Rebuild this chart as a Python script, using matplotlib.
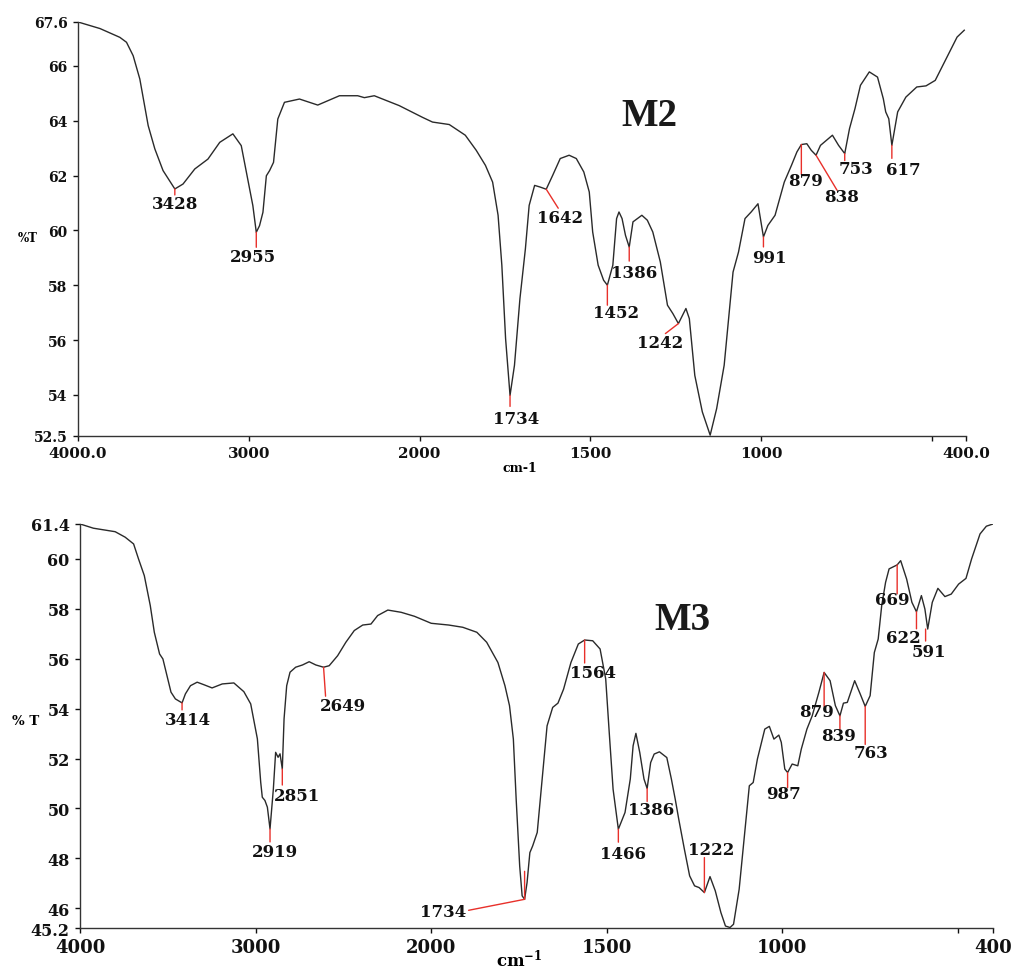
import matplotlib
matplotlib.use("Agg")
import matplotlib.pyplot as plt
import numpy as np

plt.rcParams['font.family'] = ['DejaVu Serif']
plt.rcParams['font.weight'] = 'bold'
plt.rcParams['mathtext.fontset'] = 'dejavuserif'
plt.rcParams['mathtext.default'] = 'bf'

# M2 spectrum: wavenumber (cm-1) and %T
wn_m2 = [4000, 3871, 3755, 3716, 3677, 3638, 3589, 3550, 3502, 3433, 3385, 3316, 3239,
         3170, 3093, 3044, 2976, 2956, 2937, 2917, 2897, 2878, 2855, 2830, 2791, 2703,
         2596, 2469, 2362, 2323, 2265, 2119, 1991, 1962, 1913, 1866, 1834, 1807, 1786,
         1770, 1759, 1748, 1735, 1722, 1706, 1690, 1679, 1663, 1647, 1629, 1610, 1588,
         1562, 1541, 1519, 1503, 1493, 1477, 1461, 1450, 1434, 1423, 1416, 1407, 1397,
         1386, 1375, 1362, 1349, 1333, 1317, 1295, 1274, 1258, 1242, 1220, 1210, 1194,
         1172, 1149, 1130, 1108, 1082, 1066, 1047, 1029, 1009, 993, 980, 959, 932, 911,
         895, 882, 866, 853, 839, 826, 791, 773, 755, 741, 725, 709, 683, 659, 642, 635,
         626, 617, 600, 576, 544, 517, 490, 458, 426, 405]
t_m2 = [67.60, 67.36, 67.04, 66.86, 66.37, 65.52, 63.82, 62.97, 62.18, 61.51, 61.69, 62.24,
        62.60, 63.21, 63.52, 63.09, 60.90, 59.93, 60.17, 60.66, 61.99, 62.18, 62.48, 64.06,
        64.67, 64.79, 64.57, 64.91, 64.91, 64.84, 64.91, 64.55, 64.12, 63.95, 63.86, 63.47,
        62.92, 62.37, 61.76, 60.55, 58.73, 56.05, 53.98, 55.08, 57.51, 59.33, 60.91, 61.64,
        61.58, 61.50, 62.01, 62.62, 62.74, 62.62, 62.13, 61.40, 59.94, 58.73, 58.18, 58.00,
        58.73, 60.43, 60.67, 60.43, 59.82, 59.39, 60.31, 60.43, 60.55, 60.37, 59.94, 58.85,
        57.27, 56.96, 56.60, 57.15, 56.78, 54.71, 53.38, 52.53, 53.50, 55.08, 58.48, 59.21,
        60.43, 60.67, 60.97, 59.76, 60.18, 60.55, 61.76, 62.37, 62.86, 63.13, 63.16, 62.92,
        62.74, 63.10, 63.47, 63.10, 62.80, 63.71, 64.44, 65.29, 65.78, 65.59, 64.80, 64.32,
        64.07, 63.10, 64.32, 64.86, 65.23, 65.27, 65.47, 66.26, 67.05, 67.30]

# M3 spectrum
wn_m3 = [4000, 3924, 3800, 3743, 3695, 3667, 3634, 3600, 3577, 3547, 3528, 3505, 3482,
         3457, 3419, 3400, 3371, 3333, 3295, 3248, 3190, 3124, 3067, 3028, 2990, 2971,
         2962, 2947, 2933, 2918, 2910, 2899, 2886, 2872, 2861, 2848, 2838, 2823, 2804,
         2772, 2733, 2695, 2657, 2613, 2581, 2533, 2486, 2438, 2390, 2343, 2305, 2247,
         2171, 2095, 2000, 1950, 1910, 1870, 1842, 1810, 1790, 1777, 1766, 1758, 1753,
         1748, 1741, 1734, 1727, 1719, 1711, 1698, 1685, 1670, 1654, 1639, 1623, 1602,
         1581, 1563, 1540, 1519, 1503, 1493, 1482, 1467, 1448, 1433, 1425, 1417, 1406,
         1394, 1385, 1375, 1365, 1350, 1329, 1316, 1305, 1295, 1279, 1264, 1250, 1237,
         1222, 1206, 1191, 1175, 1162, 1149, 1139, 1123, 1107, 1094, 1083, 1071, 1050,
         1037, 1024, 1010, 1003, 993, 985, 972, 956, 946, 930, 915, 896, 881, 864, 849,
         836, 826, 815, 794, 778, 764, 750, 738, 727, 717, 706, 696, 673, 663, 646, 631,
         618, 604, 594, 586, 573, 557, 537, 519, 498, 477, 461, 437, 419, 400]
t_m3 = [61.40, 61.23, 61.09, 60.87, 60.60, 60.00, 59.33, 58.13, 57.06, 56.19, 55.99, 55.32,
        54.66, 54.39, 54.23, 54.59, 54.92, 55.06, 54.96, 54.83, 54.99, 55.03, 54.68, 54.19,
        52.79, 51.05, 50.45, 50.32, 50.05, 49.18, 49.85, 50.78, 52.25, 52.05, 52.19, 51.58,
        53.59, 54.92, 55.46, 55.66, 55.75, 55.88, 55.75, 55.66, 55.72, 56.12, 56.66, 57.13,
        57.35, 57.39, 57.73, 57.95, 57.86, 57.70, 57.42, 57.35, 57.26, 57.06, 56.66, 55.85,
        54.92, 54.12, 52.78, 50.37, 49.04, 47.70, 46.50, 46.36, 47.03, 48.23, 48.50, 49.04,
        51.04, 53.31, 54.05, 54.22, 54.78, 55.85, 56.59, 56.75, 56.72, 56.39, 55.19, 53.05,
        50.77, 49.17, 49.84, 51.18, 52.51, 53.01, 52.24, 51.18, 50.80, 51.84, 52.18, 52.27,
        52.04, 51.18, 50.37, 49.57, 48.37, 47.30, 46.90, 46.83, 46.63, 47.27, 46.70, 45.83,
        45.29, 45.23, 45.36, 46.76, 49.04, 50.91, 51.04, 51.98, 53.18, 53.29, 52.78, 52.94,
        52.65, 51.58, 51.44, 51.78, 51.71, 52.38, 53.18, 53.71, 54.65, 55.45, 55.12, 54.12,
        53.71, 54.22, 54.25, 55.12, 54.58, 54.09, 54.52, 56.25, 56.79, 58.13, 59.06, 59.60,
        59.76, 59.93, 59.19, 58.26, 57.88, 58.53, 57.99, 57.19, 58.26, 58.82, 58.49, 58.59,
        58.99, 59.22, 60.00, 61.00, 61.31, 61.40]

# peak labels and where they sit on the curves
peaks_m2 = ['3428', '2955', '1734', '1642', '1452', '1386', '1242', '991', '879', '838', '753', '617']
peak_wn_m2 = [3433, 2956, 1735, 1629, 1450, 1386, 1242, 993, 882, 839, 755, 617]
peak_t_m2 = [61.51, 59.93, 53.98, 61.50, 58.00, 59.39, 56.60, 59.76, 63.13, 62.74, 62.80, 63.10]

peaks_m3 = ['3414', '2919', '2851', '2649', '1734', '1564', '1466', '1386', '1222', '987',
            '879', '839', '763', '669', '622', '591']
peak_wn_m3 = [3419, 2918, 2848, 2613, 1734, 1563, 1467, 1385, 1222, 985, 881, 836, 764, 673, 618, 592]
peak_t_m3 = [54.23, 49.18, 51.58, 55.66, 46.36, 56.75, 49.17, 50.80, 46.63, 51.44, 55.45,
             53.71, 54.09, 59.76, 57.88, 57.19]

x_ticks = [4000, 3000, 2000, 1500, 1000, 500, 400]
xlab_m2 = ['4000.0', '3000', '2000', '1500', '1000', '', '400.0']
xlab_m3 = ['4000', '3000', '2000', '1500', '1000', '', '400']
y_ticks_m2 = [52.5, 54, 56, 58, 60, 62, 64, 66, 67.6]
y_ticks_m3 = [45.2, 46, 48, 50, 52, 54, 56, 58, 60, 61.4]

# label layout: (line end offset, text centre offset) in pixels
line_off_m2 = [(0, -6), (0, -15), (0, -11), (12, -19), (0, -20), (0, -14), (-13, -10),
               (0, -10), (0, -30), (21, -35), (0, -7), (0, -13)]
text_off_m2 = [(0, -15), (-3, -24), (6, -23), (14, -28), (9, -27), (5, -25), (-18, -19),
               (6, -21), (4, -36), (26, -41), (11, -15), (11, -24)]
line_off_m3 = [(0, -7), (0, -13), (0, -16), (2, -29), (-56, -11), (0, -23), (0, -13), (0, -13),
               (0, 35), (0, -15), (0, -34), (0, -13), (0, -38), (0, -29), (0, -17), (0, -12)]
text_off_m3 = [(6, -17), (5, -23), (15, -26), (19, -38), (-81, -12), (8, -32), (5, -24), (4, -21),
               (7, 43), (-4, -21), (-8, -39), (-1, -20), (6, -46), (-5, -35), (-13, -26), (3, -22)]


def fwd(w):
    w = np.asarray(w, dtype=float)
    return np.where(w <= 2000, w, 2000 + (w - 2000) / 2)


def inv(v):
    v = np.asarray(v, dtype=float)
    return np.where(v <= 2000, v, 2000 + (v - 2000) * 2)


def setup(ax, ylim, yticks, xlabels, xfs, yfs):
    ax.set_xscale('function', functions=(fwd, inv))
    ax.set_xlim(4000, 400)
    ax.set_ylim(*ylim)
    ax.set_xticks(x_ticks)
    ax.set_xticklabels(xlabels)
    ax.set_yticks(yticks)
    ax.set_yticklabels([('%g' % v) for v in yticks])
    ax.minorticks_off()
    for s in ['top', 'right']:
        ax.spines[s].set_visible(False)
    for s in ['left', 'bottom']:
        ax.spines[s].set_color('#333333')
        ax.spines[s].set_linewidth(1.0)
    ax.tick_params(axis='x', direction='out', length=3.5, width=1, pad=3.5, labelsize=xfs, colors='#111111')
    ax.tick_params(axis='y', direction='out', length=3.5, width=1, pad=4, labelsize=yfs, colors='#111111')
    for lab in ax.get_xticklabels() + ax.get_yticklabels():
        lab.set_fontweight('bold')


def label_peaks(ax, labels, wn, tv, line_off, text_off, fs):
    for lab, w, t, lo, to in zip(labels, wn, tv, line_off, text_off):
        ax.annotate('', xy=(w, t), xytext=lo, textcoords='offset pixels',
                    arrowprops=dict(arrowstyle='-', color='#e8302a', lw=1, shrinkA=0, shrinkB=0))
        ax.annotate(lab, xy=(w, t), xytext=to, textcoords='offset pixels',
                    ha='center', va='center', fontsize=fs, fontweight='bold', color='#111111')


fig = plt.figure(figsize=(10.21, 9.70), dpi=100)

ax1 = fig.add_axes([0.0764, 0.5495, 0.8697, 0.4268])
ax1.plot(wn_m2, t_m2, color='#2a2a2a', lw=1.0)
setup(ax1, (52.5, 67.6), y_ticks_m2, xlab_m2, 11, 10)
label_peaks(ax1, peaks_m2, peak_wn_m2, peak_t_m2, line_off_m2, text_off_m2, 12)

ax2 = fig.add_axes([0.0784, 0.0420, 0.8942, 0.4168])
ax2.plot(wn_m3, t_m3, color='#2a2a2a', lw=1.0)
setup(ax2, (45.2, 61.4), y_ticks_m3, xlab_m3, 13, 11.5)
label_peaks(ax2, peaks_m3, peak_wn_m3, peak_t_m3, line_off_m3, text_off_m3, 12)
# extra short marker above the 1734 band
ax2.annotate('', xy=(1734, 46.36), xytext=(0, 28), textcoords='offset pixels',
             arrowprops=dict(arrowstyle='-', color='#e8302a', lw=1, shrinkA=0, shrinkB=0))

fig.text(0.6357, 0.8794, 'M2', fontsize=28, family='Liberation Serif', fontweight='bold',
         ha='center', va='center', color='#1a1a1a')
fig.text(0.668, 0.3608, 'M3', fontsize=28, family='Liberation Serif', fontweight='bold',
         ha='center', va='center', color='#1a1a1a')

fig.text(0.027, 0.7546, '%T', fontsize=8.5, fontweight='bold', ha='center', va='center')
fig.text(0.025, 0.2557, '% T', fontsize=9.5, fontweight='bold', ha='center', va='center')
fig.text(0.509, 0.517, 'cm-1', fontsize=9, fontweight='bold', ha='center', va='center')
fig.text(0.509, 0.011, 'cm$^{-1}$', fontsize=12, fontweight='bold', ha='center', va='center')

plt.savefig('out.png', dpi=100)
plt.close()
